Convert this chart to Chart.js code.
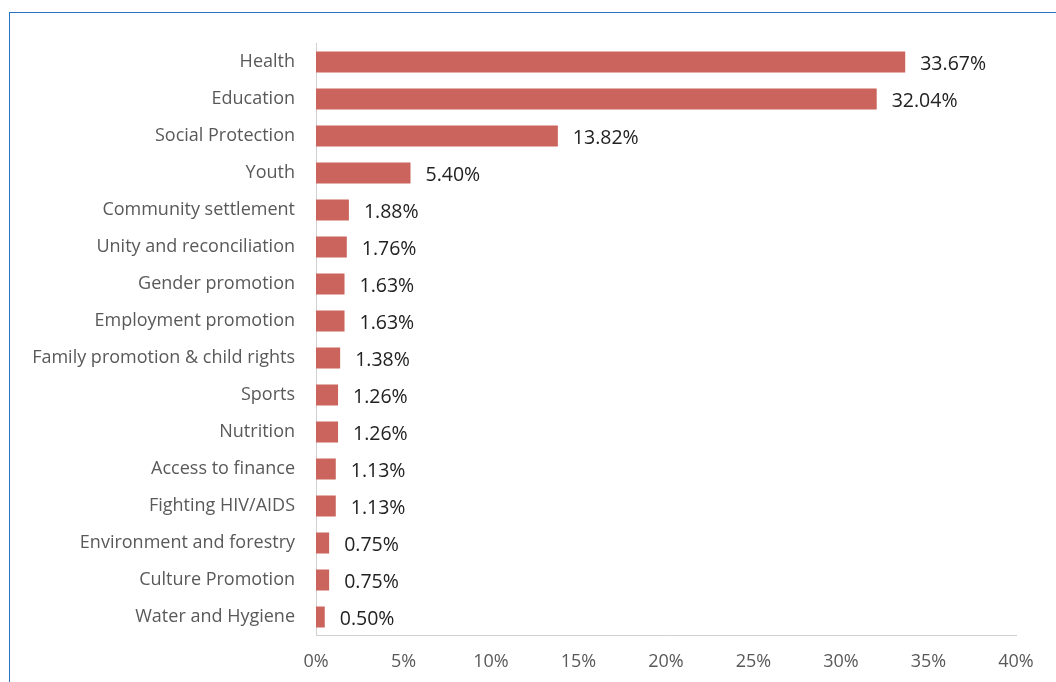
<!DOCTYPE html>
<html>
<head>
<meta charset="utf-8">
<script src="https://cdn.jsdelivr.net/npm/chart.js@4"></script>
<style>
    body { margin: 0; background: #fff; overflow: hidden; }
    #wrap { position: relative; width: 1056px; height: 682px; }
    #frame {
        position: absolute; left: 9px; top: 12px; right: -5px; bottom: -5px;
        border-left: 1px solid #2a72c0; border-top: 1px solid #2a72c0;
        pointer-events: none;
    }
    canvas { position: absolute; left: 0; top: 0; }
</style>
</head>
<body>
<div id="wrap">
    <canvas id="budgetChart" width="1056" height="682"></canvas>
    <div id="frame"></div>
</div>
<script>
// share of the social sector budget by programme
const categories = [
    "Health", "Education", "Social Protection", "Youth", "Community settlement",
    "Unity and reconciliation", "Gender promotion", "Employment promotion",
    "Family promotion & child rights", "Sports", "Nutrition", "Access to finance",
    "Fighting HIV/AIDS", "Environment and forestry", "Culture Promotion", "Water and Hygiene"
];
const shares = [33.67, 32.04, 13.82, 5.40, 1.88, 1.76, 1.63, 1.63, 1.38, 1.26, 1.26, 1.13, 1.13, 0.75, 0.75, 0.50];
const xTicks = [0, 5, 10, 15, 20, 25, 30, 35, 40];

const FONT = "'Open Sans', sans-serif";

// writes the value next to each bar end
const valueLabels = {
    id: "valueLabels",
    afterDatasetsDraw(chart) {
        const ctx = chart.ctx;
        const meta = chart.getDatasetMeta(0);
        ctx.save();
        ctx.font = "19.5px " + FONT;
        ctx.fillStyle = "#222";
        ctx.textBaseline = "middle";
        meta.data.forEach((bar, i) => {
            ctx.fillText(shares[i].toFixed(2) + "%", bar.x + 15, bar.y + 2);
        });
        ctx.restore();
    }
};

new Chart(document.getElementById("budgetChart"), {
    type: "bar",
    data: {
        labels: categories,
        datasets: [{
            data: shares,
            backgroundColor: "#cb645c",
            borderWidth: 0,
            barPercentage: 0.57,
            categoryPercentage: 1
        }]
    },
    options: {
        indexAxis: "y",
        responsive: false,
        animation: false,
        layout: { padding: { top: 43.5, right: 40, left: 0, bottom: 0 } },
        plugins: { legend: { display: false }, tooltip: { enabled: false } },
        scales: {
            x: {
                min: 0,
                max: 40,
                afterBuildTicks: scale => { scale.ticks = xTicks.map(v => ({ value: v })); },
                afterFit: scale => { scale.height = 46.5; },
                grid: { display: false, drawTicks: false },
                border: { display: true, color: "#d0d0d0", width: 1 },
                ticks: {
                    padding: 16,
                    color: "#595959",
                    font: { family: FONT, size: 18 },
                    callback: v => v + "%"
                }
            },
            y: {
                afterFit: scale => { scale.width = 316; },
                grid: { display: false, drawTicks: false },
                border: { display: true, color: "#d0d0d0", width: 1 },
                ticks: {
                    padding: 21,
                    color: "#595959",
                    font: { family: FONT, size: 18 },
                    autoSkip: false
                }
            }
        }
    },
    plugins: [valueLabels]
});
</script>
</body>
</html>
